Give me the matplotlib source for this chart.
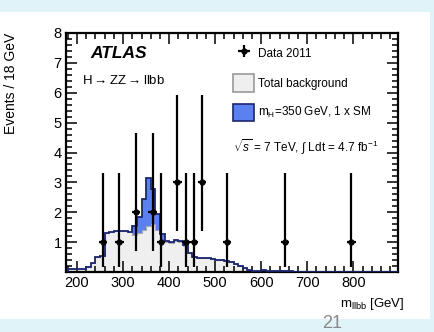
import matplotlib
matplotlib.use("Agg")
import matplotlib.pyplot as plt
import numpy as np
from matplotlib.patches import Rectangle, Patch
from matplotlib.ticker import MultipleLocator

plt.rcParams['font.family'] = ['Liberation Sans', 'DejaVu Sans']
plt.rcParams['mathtext.fontset'] = 'custom'
plt.rcParams['mathtext.rm'] = 'Liberation Sans'
plt.rcParams['mathtext.it'] = 'Liberation Sans:italic'

# background / signal histograms, 10 GeV bins from 180 to 900 GeV
bin_lo = 180
bin_w = 10
bkg = [0.09, 0.09, 0.10, 0.09, 0.18, 0.29, 0.51, 0.55, 1.29, 1.34,
       1.37, 1.38, 1.37, 1.33, 1.25, 1.30, 1.40, 1.55, 1.62, 1.40,
       1.05, 1.00, 0.98, 1.05, 1.02, 0.88, 0.62, 0.50, 0.48, 0.47,
       0.46, 0.42, 0.41, 0.40, 0.38, 0.33, 0.27, 0.20, 0.13, 0.08,
       0.05, 0.04, 0.06, 0.04, 0.03, 0.02, 0.02, 0.02, 0.02, 0.01,
       0.01, 0.01, 0.01, 0.01, 0.01, 0.01, 0.01, 0.0, 0.0, 0.0,
       0.0, 0.0, 0.0, 0.0, 0.0, 0.0, 0.0, 0.0, 0.0, 0.0,
       0.0, 0.0]
sig = [0.0] * 72
sig_part = {14: 0.30, 15: 0.55, 16: 1.05, 17: 1.60, 18: 1.15, 19: 0.55,
            20: 0.22, 21: 0.05, 22: 0.04, 23: 0.03, 24: 0.03, 25: 0.02}
for k, v in sig_part.items():
    sig[k] = v

# data points (18 GeV bins)
data_x = [256, 292, 328, 364, 382, 418, 436, 454, 472, 526, 652, 796]
data_y = [1, 1, 2, 2, 1, 3, 1, 1, 3, 1, 1, 1]
# Poisson (Garwood) intervals
pois_lo = {1: 0.827, 2: 1.292, 3: 1.633}
pois_hi = {1: 2.300, 2: 2.638, 3: 2.918}

bkg = np.array(bkg)
total = bkg + np.array(sig)
edges = bin_lo + bin_w * np.arange(len(bkg) + 1)

fig = plt.figure(figsize=(4.34, 3.32), dpi=100, facecolor='#dff3f8')
fig.patches.append(Rectangle((0, 13 / 332), 430 / 434, 307 / 332,
                             transform=fig.transFigure, facecolor='white',
                             edgecolor='none', zorder=-5))
fig.text(322 / 434, 0.5 / 332, '21', fontsize=13, color='#888888', va='bottom')

ax = fig.add_axes([66 / 434, 60 / 332, 332 / 434, 239 / 332])
ax.patch.set_alpha(0)

ax.stairs(total, edges, baseline=bkg, fill=True, color='#5b80f0', zorder=1)
ax.stairs(bkg, edges, fill=True, color='#efefef', zorder=1)
ax.stairs(bkg, edges, color='#aaaaaa', lw=0.8, zorder=2)
ax.stairs(total, edges, color='#1c2570', lw=1.3, zorder=3)

yerr = [[pois_lo[v] for v in data_y], [pois_hi[v] for v in data_y]]
eb = ax.errorbar(data_x, data_y, xerr=9, yerr=yerr, fmt='o', color='black',
                 ms=3.5, lw=1.6, capsize=0, zorder=5)

ax.set_xlim(176, 897)
ax.set_ylim(0, 8)
ax.set_xticks([200, 300, 400, 500, 600, 700, 800])
ax.set_yticks([1, 2, 3, 4, 5, 6, 7, 8])
ax.xaxis.set_minor_locator(MultipleLocator(20))
ax.yaxis.set_minor_locator(MultipleLocator(0.2))
ax.tick_params(which='both', direction='in', top=True, right=True,
               labelsize=10.5, width=1.1)
ax.tick_params(which='major', length=8, pad=3)
ax.tick_params(which='minor', length=4)
for s in ax.spines.values():
    s.set_linewidth(1.6)

ax.set_ylabel('Events / 18 GeV', fontsize=10, loc='top')
ax.yaxis.set_label_coords(-0.145, 1.0)
ax.set_xlabel(r'm$_{\rm llbb}$ [GeV]', fontsize=9.5, loc='right')
ax.xaxis.set_label_coords(1.02, -0.1)

ax.text(0.072, 0.916, 'ATLAS', transform=ax.transAxes, fontsize=12.5,
        fontweight='bold', fontstyle='italic', va='center')
ax.text(0.048, 0.803, r'H$\rightarrow$ZZ$\rightarrow$llbb', transform=ax.transAxes,
        fontsize=9.5, va='center')

handles = [eb,
           Patch(facecolor='#efefef', edgecolor='#999999', lw=1.2),
           Patch(facecolor='#5b80f0', edgecolor='#1c2570', lw=1.2)]
labels = ['Data 2011', 'Total background', r'm$_{\rm H}$=350 GeV, 1 x SM']
ax.legend(handles, labels, loc='upper left', bbox_to_anchor=(0.503, 0.95),
          frameon=False, fontsize=8.5, borderpad=0, borderaxespad=0,
          handlelength=1.8, handleheight=1.9, handletextpad=0.3,
          labelspacing=1.0)
ax.text(0.503, 0.523, r'$\sqrt{s}$ = 7 TeV, $\int$ Ldt = 4.7 fb$^{-1}$',
        transform=ax.transAxes, fontsize=8.5, va='center')

fig.savefig('out.png', dpi=100, facecolor=fig.get_facecolor())
